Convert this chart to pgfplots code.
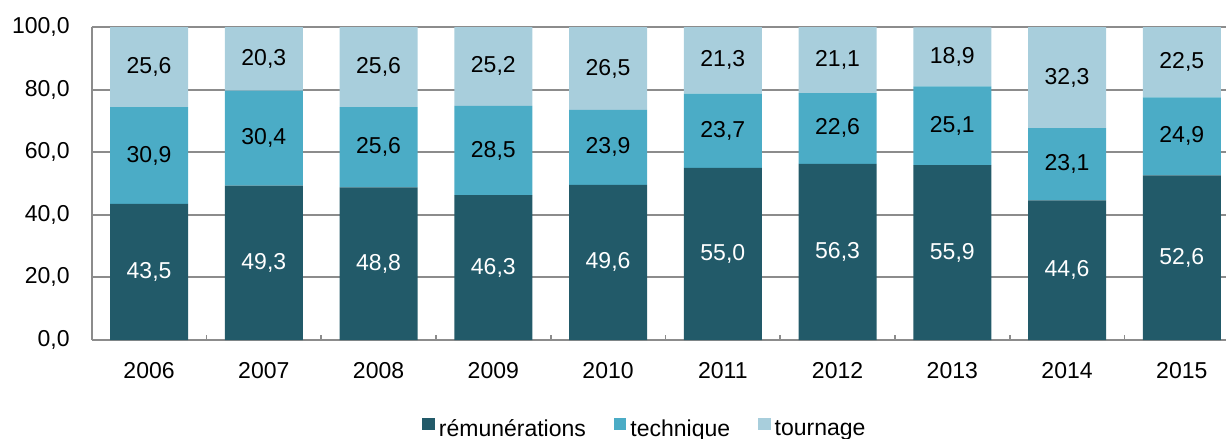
\documentclass[border=0pt]{standalone}
\usepackage{pgfplots}
\pgfplotsset{compat=1.18}
\usepackage{pgfplotstable}
\usepackage{fontspec}
\setmainfont{Liberation Sans}

\definecolor{remun}{RGB}{34,90,105}
\definecolor{techn}{RGB}{75,172,198}
\definecolor{tourn}{RGB}{168,206,220}
\definecolor{gridgray}{RGB}{140,140,140}

% parts of the budget, per year (percent)
\pgfplotstableread{
x year rem tec tou
0 2006 43.5 30.9 25.6
1 2007 49.3 30.4 20.3
2 2008 48.8 25.6 25.6
3 2009 46.3 28.5 25.2
4 2010 49.6 23.9 26.5
5 2011 55.0 23.7 21.3
6 2012 56.3 22.6 21.1
7 2013 55.9 25.1 18.9
8 2014 44.6 23.1 32.3
9 2015 52.6 24.9 22.5
}\parts

\newcommand{\lblfont}{\fontsize{11.5}{13}\selectfont}
\pgfkeys{/pgf/number format/commafmt/.style={
  /pgf/number format/fixed, /pgf/number format/fixed zerofill,
  /pgf/number format/precision=1, /pgf/number format/use comma,
  /pgf/number format/assume math mode=true}}

\begin{document}
\begin{tikzpicture}
\path[use as bounding box] (-45.85pt,-49.5pt) rectangle (567.15pt,170pt);
\begin{axis}[
  at={(0,0)}, anchor=south west,
  scale only axis, width=573.75pt, height=156.5pt,
  ybar stacked, bar width=0.68,
  xmin=-0.5, xmax=9.5, ymin=0, ymax=100,
  xtick={0,...,9},
  xticklabels={2006,2007,2008,2009,2010,2011,2012,2013,2014,2015},
  minor xtick={0.5,1.5,...,8.5},
  major tick length=0pt, minor tick length=2.5pt,
  tick align=inside,
  minor tick style={gridgray, line width=0.8pt},
  ytick={0,20,...,100},
  ymajorgrids,
  major grid style={gridgray, line width=1pt},
  axis lines*=left,
  axis line style={gridgray, line width=1pt},
  tick label style={font=\lblfont},
  yticklabel style={xshift=-7.5pt, /pgf/number format/commafmt},
  xticklabel style={yshift=-7.5pt},
  nodes near coords,
  every node near coord/.append style={anchor=center, font=\lblfont,
    /pgf/number format/commafmt},
  legend style={at={(0.483,-0.285)}, anchor=center, draw=none, fill=none,
    legend columns=3, font=\lblfont,
    /tikz/every even column/.append style={column sep=12pt}},
  legend image code/.code={\fill[#1, draw=none] (0pt,-0.5pt) rectangle (6.25pt,5.75pt);},
]
\addplot[fill=remun, draw=none, point meta=\thisrow{rem},
  every node near coord/.append style={text=white}]
  table[x=x, y=rem] {\parts};
\addplot[fill=techn, draw=none, point meta=\thisrow{tec},
  every node near coord/.append style={text=black}]
  table[x=x, y=tec] {\parts};
\addplot[fill=tourn, draw=none, point meta=\thisrow{tou},
  every node near coord/.append style={text=black}]
  table[x=x, y=tou] {\parts};
\legend{rémunérations, technique, tournage}
\end{axis}
\end{tikzpicture}
\end{document}
